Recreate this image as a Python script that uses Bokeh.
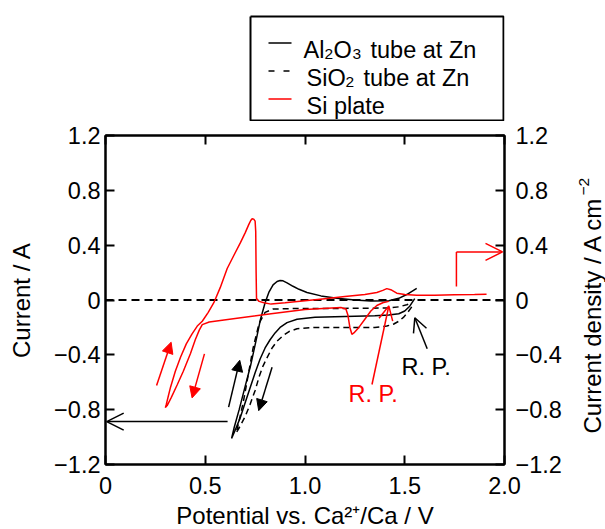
import math
from bokeh.plotting import figure
from bokeh.layouts import column, row
from bokeh.models import LinearAxis, Range1d, FixedTicker, Label, Arrow, NormalHead, OpenHead
from bokeh.core.properties import value
from bokeh.embed import file_html
from bokeh.resources import INLINE

# ---------------- data ----------------
# Al2O3 tube at Zn (left axis, current / A): cathodic scan then anodic scan
al_v = [1.55, 1.525, 1.50, 1.47, 1.42, 1.35, 1.20, 1.05, 0.96, 0.91, 0.875, 0.85, 0.825, 0.80, 0.775,
        0.75, 0.725, 0.70, 0.675, 0.65, 0.632,
        0.645, 0.67, 0.70, 0.727, 0.757, 0.777, 0.80, 0.82, 0.84, 0.86, 0.875, 0.89, 0.91, 0.94,
        0.97, 1.01, 1.08, 1.16, 1.25, 1.33, 1.42, 1.47, 1.51, 1.56]
al_i = [0.01, -0.045, -0.08, -0.10, -0.11, -0.115, -0.12, -0.125, -0.14, -0.165, -0.20, -0.24, -0.29, -0.35, -0.43,
        -0.53, -0.64, -0.75, -0.86, -0.95, -1.01,
        -0.93, -0.80, -0.63, -0.48, -0.28, -0.14, -0.02, 0.06, 0.11, 0.135, 0.142, 0.14, 0.125, 0.10,
        0.078, 0.055, 0.03, 0.012, 0.0, -0.008, -0.005, 0.012, 0.04, 0.085]

# SiO2 tube at Zn (left axis)
sio_v = [1.535, 1.515, 1.495, 1.47, 1.445, 1.41, 1.35, 1.20, 1.05, 0.96, 0.92, 0.89, 0.86, 0.835, 0.81,
         0.79, 0.77, 0.75, 0.725, 0.70, 0.675, 0.655,
         0.67, 0.69, 0.715, 0.74, 0.77, 0.80, 0.84, 0.95, 1.10, 1.30, 1.42, 1.47, 1.51, 1.535]
sio_i = [-0.05, -0.09, -0.125, -0.155, -0.175, -0.19, -0.20, -0.20, -0.20, -0.21, -0.23, -0.26, -0.30, -0.35, -0.42,
         -0.48, -0.56, -0.66, -0.76, -0.85, -0.92, -0.97,
         -0.88, -0.75, -0.55, -0.35, -0.17, -0.09, -0.066, -0.062, -0.062, -0.06, -0.058, -0.05, -0.035, -0.02]

# Si plate (right axis, current density / A cm-2)
si_v = [1.42, 1.39, 1.36, 1.33, 1.30, 1.27, 1.245, 1.235, 1.225, 1.215, 1.205, 1.18, 1.00, 0.83, 0.65,
        0.52, 0.485, 0.47, 0.45, 0.426, 0.39, 0.359, 0.33, 0.309, 0.300,
        0.305, 0.315, 0.326, 0.35, 0.376, 0.405, 0.434, 0.46, 0.485, 0.515, 0.543, 0.575, 0.61, 0.645,
        0.677, 0.70, 0.718, 0.728, 0.735, 0.743, 0.750, 0.753, 0.755, 0.757, 0.77, 0.794, 0.83, 0.90,
        1.00, 1.10, 1.20, 1.30, 1.36, 1.39, 1.41, 1.43, 1.46, 1.50, 1.56, 1.65, 1.75, 1.85, 1.91]
si_i = [-0.01, -0.02, -0.04, -0.08, -0.14, -0.20, -0.24, -0.25, -0.20, -0.11, -0.065, -0.055, -0.07, -0.10, -0.135,
        -0.16, -0.18, -0.22, -0.29, -0.39, -0.52, -0.62, -0.71, -0.77, -0.785,
        -0.76, -0.70, -0.636, -0.52, -0.418, -0.32, -0.247, -0.19, -0.155, -0.09, -0.02, 0.09, 0.23, 0.33,
        0.42, 0.49, 0.55, 0.58, 0.593, 0.59, 0.575, 0.50, 0.20, 0.01, -0.01, -0.02, -0.03, -0.02,
        -0.005, 0.01, 0.025, 0.04, 0.055, 0.07, 0.083, 0.075, 0.05, 0.04, 0.035, 0.035, 0.038, 0.04, 0.042]

# zero baseline
zero_v = [0.0, 2.0]
zero_i = [0.0, 0.0]

x_ticks = [0, 0.5, 1.0, 1.5, 2.0]
x_tick_labels = ["0", "0.5", "1.0", "1.5", "2.0"]
y_ticks = [-1.2, -0.8, -0.4, 0, 0.4, 0.8, 1.2]
y_tick_labels = ["\u22121.2", "\u22120.8", "\u22120.4", "0", "0.4", "0.8", "1.2"]

# ---------------- layout constants ----------------
FONT = "Liberation Sans"
FS = "23.5px"
W, H = 605, 529
LEG_H = 121                           # height of the legend strip above the chart
X0, FW, Y0, FH = 105, 399, 135, 329   # chart frame in page pixels
P_RIGHT = 70                          # right border of the chart (tick labels)
R_W = W - X0 - FW - P_RIGHT           # strip holding the right axis title
XMIN, XMAX, YMIN, YMAX = 0.0, 2.0, -1.2, 1.2


def dx(px):
    return XMIN + (px - X0) / FW * (XMAX - XMIN)


def dy(py):
    return YMAX - (py - Y0) / FH * (YMAX - YMIN)


def blank(fig):
    fig.grid.visible = False
    fig.outline_line_color = None
    fig.background_fill_color = "white"
    fig.border_fill_color = "white"


# ---------------- legend strip (1 unit = 1 px) ----------------
lf = figure(frame_width=FW, frame_height=LEG_H, x_range=Range1d(X0, X0 + FW), y_range=Range1d(LEG_H, 0),
            output_backend="svg", toolbar_location=None, x_axis_location=None, y_axis_location=None,
            min_border_left=X0, min_border_right=W - X0 - FW, min_border_top=0, min_border_bottom=0)
blank(lf)

bx0, by0, bx1, by1 = 250, 16, 503, 120
lf.line([bx0, bx1, bx1, bx0, bx0], [by0, by0, by1, by1, by0], line_color="black", line_width=2)

rows = [49.5, 77.5, 105.5]
lf.line([268, 291], [rows[0] - 7, rows[0] - 7], line_color="black", line_width=1.5)
lf.line([268, 291], [rows[1] - 7, rows[1] - 7], line_color="black", line_width=1.5, line_dash="6 9")
lf.line([268, 291], [rows[2] - 7, rows[2] - 7], line_color="#ff0000", line_width=1.5)

SUB = "15.5px"
main_parts = [(303, rows[0], "Al"), (333, rows[0], "O"), (370, rows[0], "tube at Zn"),
              (306, rows[1], "SiO"), (363, rows[1], "tube at Zn"),
              (306, rows[2], "Si plate")]
sub_parts = [(324, rows[0] + 3.5, "2"), (352, rows[0] + 3.5, "3"), (345, rows[1] + 3.5, "2")]
lf.text(x=[a for a, b, c in main_parts], y=[b for a, b, c in main_parts], text=[c for a, b, c in main_parts],
        text_font=value(FONT), text_font_size=value(FS), text_color="black",
        text_baseline="alphabetic", text_align="left")
lf.text(x=[a for a, b, c in sub_parts], y=[b for a, b, c in sub_parts], text=[c for a, b, c in sub_parts],
        text_font=value(FONT), text_font_size=value(SUB), text_color="black",
        text_baseline="alphabetic", text_align="left")

# ---------------- main chart ----------------
p = figure(frame_width=FW, frame_height=FH, x_range=Range1d(XMIN, XMAX), y_range=Range1d(YMIN, YMAX),
           output_backend="svg", toolbar_location=None,
           min_border_left=X0, min_border_right=P_RIGHT,
           min_border_top=Y0 - LEG_H, min_border_bottom=H - Y0 - FH)
p.extra_y_ranges = {"dens": Range1d(YMIN, YMAX)}
p.grid.visible = False
p.outline_line_color = "black"
p.outline_line_width = 2
p.background_fill_color = "white"
p.border_fill_color = "white"


def style_axis(ax, ticks, labels):
    ax.ticker = FixedTicker(ticks=ticks)
    ax.major_label_overrides = {t: l for t, l in zip(ticks, labels)}
    ax.major_tick_in = 9
    ax.major_tick_out = 0
    ax.minor_tick_line_color = None
    ax.axis_line_width = 2
    ax.major_tick_line_width = 2
    ax.axis_line_color = "black"
    ax.major_tick_line_color = "black"
    ax.major_label_text_font = FONT
    ax.major_label_text_font_size = FS
    ax.major_label_text_color = "black"
    ax.axis_label_text_font = FONT
    ax.axis_label_text_font_size = "24px"
    ax.axis_label_text_font_style = "normal"
    ax.axis_label_text_color = "black"


xa = p.xaxis[0]
style_axis(xa, x_ticks, x_tick_labels)
xa.axis_label = "Potential vs. Ca\u00b2\u207a/Ca / V"
xa.major_label_standoff = 12
xa.axis_label_standoff = 5

ya = p.yaxis[0]
style_axis(ya, y_ticks, y_tick_labels)
ya.axis_label = "Current / A"
ya.major_label_standoff = 5
ya.axis_label_standoff = 16

ra = LinearAxis(y_range_name="dens")
style_axis(ra, y_ticks, y_tick_labels)
ra.major_label_standoff = 11
p.add_layout(ra, "right")

ta = LinearAxis()
style_axis(ta, x_ticks, ["" for _ in x_ticks])
ta.major_label_text_font_size = "0px"
ta.major_label_standoff = 0
p.add_layout(ta, "above")

# curves
p.line(zero_v, zero_i, line_color="black", line_width=2, line_dash="8 5")
p.line(sio_v, sio_i, line_color="black", line_width=1.5, line_dash="6 4")
p.line(al_v, al_i, line_color="black", line_width=1.5)
p.line(si_v, si_i, line_color="#ff0000", line_width=1.5, y_range_name="dens")


def arrow(x0, y0, x1, y1, color, head):
    p.add_layout(Arrow(x_start=x0, y_start=y0, x_end=x1, y_end=y1, line_color=color,
                       line_width=1.5, end=head))


def filled(color):
    return NormalHead(size=11, fill_color=color, line_color=color, line_width=1)


def openh(color, size=17):
    return OpenHead(size=size, line_color=color, line_width=1.5)


# scan-direction arrows
arrow(0.617, -0.782, 0.673, -0.44, "black", filled("black"))
arrow(0.835, -0.49, 0.768, -0.807, "black", filled("black"))
arrow(0.256, -0.624, 0.329, -0.308, "#ff0000", filled("#ff0000"))
arrow(0.496, -0.393, 0.434, -0.714, "#ff0000", filled("#ff0000"))

# arrows pointing to the axis each data set uses
arrow(0.612, -0.887, 0.006, -0.887, "black", openh("black"))
arrow(1.759, 0.099, 1.759, 0.351, "#ff0000", None)
arrow(1.759, 0.351, 1.99, 0.351, "#ff0000", openh("#ff0000"))

# rest potential arrows and labels
arrow(dx(426.7), dy(348.3), dx(414.3), dy(317.3), "black", openh("black", 14))
arrow(dx(371.5), dy(384.0), dx(388.3), dy(305.5), "#ff0000", openh("#ff0000", 14))

p.add_layout(Label(x=dx(401), y=dy(366), text="R. P.", text_font=FONT, text_font_size=FS,
                   text_color="black", text_baseline="alphabetic"))
p.add_layout(Label(x=dx(348), y=dy(393), text="R. P.", text_font=FONT, text_font_size=FS,
                   text_color="#ff0000", text_baseline="alphabetic"))

# ---------------- right axis title strip (1 unit = 1 px, reads bottom-to-top) ----------------
rx0 = W - R_W
rf = figure(frame_width=R_W, frame_height=FH, x_range=Range1d(rx0, W), y_range=Range1d(Y0 + FH, Y0),
            output_backend="svg", toolbar_location=None, x_axis_location=None, y_axis_location=None,
            min_border_left=0, min_border_right=0, min_border_top=Y0 - LEG_H, min_border_bottom=H - Y0 - FH)
blank(rf)
title_main = "Current density / A cm"
title_sup = "\u22122"
rf.text(x=[592], y=[433], text=[title_main], angle=math.pi / 2, text_font=value(FONT),
        text_font_size=value("24px"), text_color="black", text_baseline="alphabetic", text_align="left")
rf.text(x=[583], y=[195], text=[title_sup], angle=math.pi / 2, text_font=value(FONT),
        text_font_size=value("15.5px"), text_color="black", text_baseline="alphabetic", text_align="left")

layout = column(lf, row(p, rf, spacing=0), spacing=0)
open("out.html", "w").write(file_html(layout, INLINE))
